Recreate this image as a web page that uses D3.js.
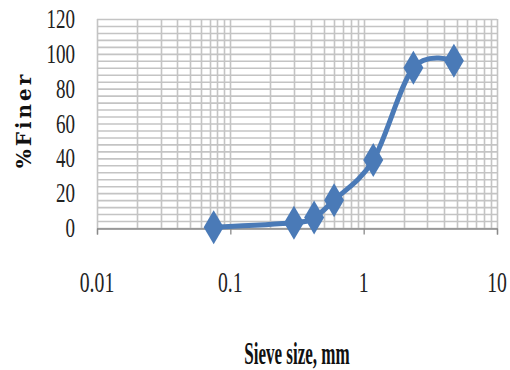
<!DOCTYPE html>
<html>
<head>
<meta charset="utf-8">
<script src="https://cdn.jsdelivr.net/npm/d3@7"></script>
<style>
body { margin: 0; background: #fff; }
</style>
</head>
<body>
<script>
var sieveSize = [0.075, 0.3, 0.425, 0.6, 1.18, 2.36, 4.75];
var percentFiner = [0.5, 3, 6, 16, 39, 92, 96];
var yTicks = [0, 20, 40, 60, 80, 100, 120];
var xTicks = [0.01, 0.1, 1, 10];
var xTickLabels = ["0.01", "0.1", "1", "10"];

function svg_canvas(){
    var width = 510;
    var height = 370;

    var x = d3.scaleLog()
        .domain([0.01, 10])
        .range([97, 497]);

    var y = d3.scaleLinear()
        .domain([0, 120])
        .range([228, 19]);

    var canv = d3.select("body")
        .append("svg")
        .attr("width", width)
        .attr("height", height);

    // minor log grid (2..9 each decade) plus the majors
    var vlines = [];
    for (var k = -2; k <= 0; k++) {
        for (var m = 1; m <= 9; m++) {
            vlines.push(m * Math.pow(10, k));
        }
    }
    vlines.push(10);

    var hlines = d3.range(0, 121, 4);

    var grid = canv.append("g");
    grid.selectAll("line.h")
        .data(hlines)
        .enter()
            .append("line")
            .attr("x1", x(0.01))
            .attr("x2", x(10))
            .attr("y1", function(d){ return y(d) + 0.5; })
            .attr("y2", function(d){ return y(d) + 0.5; })
            .attr("stroke", "#c4c4c4")
            .attr("stroke-width", 1.6);

    grid.selectAll("line.v")
        .data(vlines)
        .enter()
            .append("line")
            .attr("x1", function(d){ return Math.round(x(d)) + 0.5; })
            .attr("x2", function(d){ return Math.round(x(d)) + 0.5; })
            .attr("y1", y(120))
            .attr("y2", y(0))
            .attr("stroke", "#c4c4c4")
            .attr("stroke-width", 1.6);

    // x axis with ticks below
    var xAxis = d3.axisBottom(x)
        .tickValues(xTicks)
        .tickSize(6)
        .tickFormat("");
    var gx = canv.append("g")
        .attr("transform", "translate(0," + (y(0) + 0.5) + ")")
        .call(xAxis);
    gx.selectAll("path, line").attr("stroke", "#8a8a8a").attr("stroke-width", 1.3);

    // tick labels, condensed serif
    canv.selectAll("g.xl")
        .data(xTicks)
        .enter()
            .append("g")
            .attr("transform", function(d){ return "translate(" + x(d) + ",292) scale(0.68,1)"; })
            .append("text")
            .attr("text-anchor", "middle")
            .attr("font-family", "Liberation Serif")
            .attr("font-size", 29)
            .attr("fill", "#222")
            .text(function(d, i){ return xTickLabels[i]; });

    canv.selectAll("g.yl")
        .data(yTicks)
        .enter()
            .append("g")
            .attr("transform", function(d){ return "translate(75," + (y(d) + 9) + ") scale(0.68,1)"; })
            .append("text")
            .attr("text-anchor", "end")
            .attr("font-family", "Liberation Serif")
            .attr("font-size", 28)
            .attr("fill", "#222")
            .text(function(d){ return d; });

    // axis titles
    canv.append("g")
        .attr("transform", "translate(297,364) scale(0.55,1)")
        .append("text")
        .attr("text-anchor", "middle")
        .attr("font-family", "Liberation Serif")
        .attr("font-weight", "bold")
        .attr("font-size", 31)
        .attr("fill", "#111")
        .text("Sieve size, mm");

    canv.append("text")
        .attr("transform", "translate(31,120) rotate(-90)")
        .attr("text-anchor", "middle")
        .attr("font-family", "DejaVu Serif")
        .attr("font-weight", "bold")
        .attr("font-size", 20)
        .attr("letter-spacing", 3)
        .attr("fill", "#111")
        .text("%Finer");

    var pts = sieveSize.map(function(s, i){ return {size: s, pf: percentFiner[i]}; });

    var line_pf = d3.line()
        .x(function(d){ return x(d.size); })
        .y(function(d){ return y(d.pf); })
        .curve(d3.curveCardinal);

    canv.append("path")
        .datum(pts)
        .attr("d", line_pf)
        .attr("fill", "none")
        .attr("stroke", "#4a7ab7")
        .attr("stroke-width", 5)
        .attr("stroke-linejoin", "round");

    // diamonds, a bit tall like the original
    canv.selectAll("path.mk")
        .data(pts)
        .enter()
            .append("path")
            .attr("transform", function(d){ return "translate(" + x(d.size) + "," + y(d.pf) + ")"; })
            .attr("d", "M0,-17L10,0L0,17L-10,0Z")
            .attr("fill", "#4a7ab7");
}

svg_canvas();
</script>
</body>
</html>
